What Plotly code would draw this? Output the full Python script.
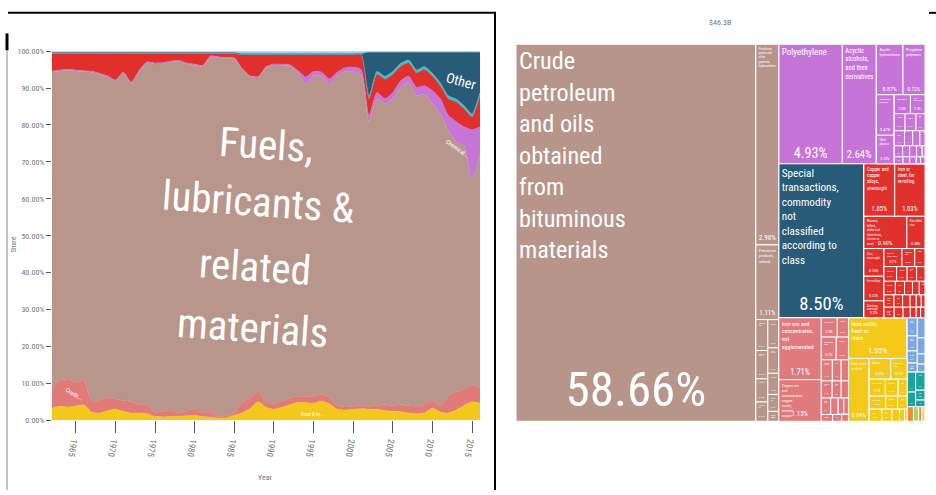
import math
import textwrap
import plotly.graph_objects as go

FONT = "Roboto Condensed, Liberation Sans Narrow, Roboto, sans-serif"

# ---------------- Left chart: export share by SITC section (%) ----------------
years = list(range(1962, 2017))
food = [3.3, 3.8, 3.6, 3.9, 4.2, 2.2, 2.0, 2.6, 3.0, 2.4,
        2.0, 2.0, 1.8, 1.0, 0.9, 1.0, 1.1, 1.2, 1.4, 1.0,
        0.8, 0.6, 0.7, 1.4, 2.0, 3.2, 5.0, 3.5, 3.0, 3.5,
        4.2, 4.8, 4.8, 4.6, 5.2, 4.4, 3.0, 2.8, 3.0, 3.1,
        3.0, 3.0, 2.6, 2.5, 2.3, 2.0, 1.8, 2.0, 3.3, 2.2,
        2.0, 2.8, 4.0, 5.0, 4.6]
crude_materials = [5.3, 7.0, 7.6, 6.3, 6.8, 2.8, 3.5, 3.6, 2.8, 3.0,
                   3.0, 2.3, 2.4, 1.2, 1.5, 1.8, 0.9, 1.3, 1.8, 1.0,
                   1.4, 0.4, 0.5, 0.6, 2.8, 2.8, 2.7, 1.5, 1.5, 1.7,
                   1.8, 1.7, 1.7, 1.9, 1.8, 1.8, 1.0, 0.8, 0.8, 0.9,
                   0.8, 1.0, 1.6, 1.5, 2.0, 2.0, 2.0, 2.2, 2.2, 1.6,
                   4.5, 4.9, 4.5, 4.6, 4.2]
fuels = [85.7, 83.8, 83.6, 84.4, 83.4, 89.3, 88.2, 86.8, 86.1, 88.6,
         86.3, 90.2, 92.6, 94.3, 94.2, 94.2, 95.2, 94.0, 93.0, 93.8,
         96.2, 97.2, 96.8, 95.9, 90.2, 87.0, 85.1, 90.5, 91.7, 91.0,
         90.0, 87.6, 84.5, 86.8, 86.3, 84.8, 89.3, 90.9, 90.7, 89.6,
         77.1, 83.1, 81.6, 83.1, 85.9, 87.5, 84.2, 84.2, 80.3, 79.3,
         72.0, 67.8, 65.7, 55.4, 63.2]
chemicals = [0.3, 0.3, 0.3, 0.3, 0.3, 0.3, 0.3, 0.3, 0.3, 0.3,
             0.3, 0.3, 0.3, 0.3, 0.3, 0.3, 0.3, 0.3, 0.3, 0.3,
             0.3, 0.3, 0.3, 0.3, 0.3, 0.3, 0.3, 0.3, 0.3, 0.3,
             0.3, 0.7, 2.0, 1.2, 1.0, 1.5, 1.0, 1.0, 1.2, 1.4,
             1.7, 1.7, 1.3, 1.7, 1.8, 1.7, 2.2, 2.2, 3.5, 4.0,
             4.1, 5.4, 5.3, 13.7, 7.5]
manufactured = [4.7, 4.4, 4.2, 4.4, 4.6, 4.7, 5.3, 6.0, 7.1, 5.0,
                7.7, 4.5, 2.2, 2.5, 2.4, 2.0, 1.8, 2.5, 2.8, 3.2,
                0.6, 0.8, 1.0, 1.1, 3.7, 5.7, 5.9, 3.2, 2.5, 2.5,
                2.7, 4.2, 6.0, 4.5, 4.7, 6.5, 4.7, 3.5, 3.3, 4.0,
                4.5, 4.9, 5.3, 4.9, 3.9, 3.6, 3.9, 4.4, 3.9, 3.5,
                4.5, 5.3, 4.9, 3.5, 8.5]
machinery = [0.2, 0.2, 0.2, 0.2, 0.2, 0.2, 0.2, 0.2, 0.2, 0.2,
             0.2, 0.2, 0.2, 0.2, 0.2, 0.2, 0.2, 0.2, 0.2, 0.2,
             0.2, 0.2, 0.2, 0.2, 0.2, 0.2, 0.2, 0.2, 0.2, 0.2,
             0.2, 0.2, 0.2, 0.2, 0.2, 0.2, 0.2, 0.2, 0.2, 0.2,
             0.8, 0.8, 0.8, 0.8, 0.8, 0.8, 0.8, 0.8, 0.8, 0.8,
             0.8, 0.8, 0.8, 0.8, 0.8]
other = [0.1, 0.1, 0.1, 0.1, 0.1, 0.1, 0.1, 0.1, 0.1, 0.1,
         0.1, 0.1, 0.1, 0.1, 0.1, 0.1, 0.1, 0.1, 0.1, 0.1,
         0.1, 0.1, 0.1, 0.1, 0.1, 0.1, 0.1, 0.1, 0.1, 0.1,
         0.1, 0.1, 0.1, 0.1, 0.1, 0.1, 0.1, 0.1, 0.1, 0.1,
         11.8, 5.2, 6.5, 5.2, 3.0, 2.1, 4.8, 3.9, 5.7, 8.3,
         11.8, 12.7, 14.5, 16.7, 10.9]
misc = [0.4, 0.4, 0.4, 0.4, 0.4, 0.4, 0.4, 0.4, 0.4, 0.4,
        0.4, 0.4, 0.4, 0.4, 0.4, 0.4, 0.4, 0.4, 0.4, 0.4,
        0.4, 0.4, 0.4, 0.4, 0.7, 0.7, 0.7, 0.7, 0.7, 0.7,
        0.7, 0.7, 0.7, 0.7, 0.7, 0.7, 0.7, 0.7, 0.7, 0.7,
        0.3, 0.3, 0.3, 0.3, 0.3, 0.3, 0.3, 0.3, 0.3, 0.3,
        0.3, 0.3, 0.3, 0.3, 0.3]

area_series = [
    ("Food & live animals", food),
    ("Crude materials, inedible", crude_materials),
    ("Fuels, lubricants & related materials", fuels),
    ("Chemicals", chemicals),
    ("Manufactured goods", manufactured),
    ("Machinery & transport equipment", machinery),
    ("Other", other),
    ("Miscellaneous manufactured articles", misc),
]
area_colors = ["#f2c81d", "#e07b79", "#b9968c", "#c775d9", "#e1302c",
               "#3cbfcf", "#285b77", "#8fd3ee"]

x_ticks = [1965, 1970, 1975, 1980, 1985, 1990, 1995, 2000, 2005, 2010, 2015]
y_ticks = [0, 10, 20, 30, 40, 50, 60, 70, 80, 90, 100]
y_tick_labels = ["0.00%", "10.00%", "20.00%", "30.00%", "40.00%", "50.00%",
                 "60.00%", "70.00%", "80.00%", "90.00%", "100.00%"]
big_label_lines = ["Fuels,", "lubricants &", "related", "materials"]

# ---------------- Right chart: treemap, share of $46.3B (%) ----------------
total_label = "$46.3B"
fuels_main = [("Crude petroleum and oils obtained from bituminous materials", 58.66)]
fuels_col = [("Petroleum gases and other gaseous hydrocarbons", 2.98),
             ("Petroleum products, refined", 1.11)]
fuels_small_a = [("Petroleum coke", 0.24), ("Bitumen and asphalt", 0.22),
                 ("Paraffin wax", 0.18), ("Lubricating oils", 0.15)]
fuels_small_b = [("Coal", 0.20), ("Coke and semi-coke", 0.18), ("Lignite", 0.15),
                 ("Coal tar oils", 0.12), ("Electric current", 0.07)]

chem_main = [("Polyethylene", 4.93), ("Acyclic alcohols, and their derivatives", 2.64)]
chem_top = [("Acyclic hydrocarbons", 0.87), ("Propylene polymers", 0.72)]
chem_col = [("Nitrogenous fertilizers", 0.47), ("Other plastics", 0.33)]
chem_rows = [
    [("Ammonia", 0.20), ("Cyclic hydrocarbons", 0.18)],
    [("Polyacetals", 0.12), ("Ethers", 0.12), ("Carboxylic acids", 0.10)],
    [("Urea", 0.10), ("Ketones", 0.08), ("Styrene polymers", 0.07), ("Sulphonated compounds", 0.05)],
    [("Paints and varnishes", 0.06), ("Soap", 0.05), ("Medicaments", 0.05), ("Cosmetics", 0.04), ("Pesticides", 0.02)],
    [("Plastic tubes", 0.04), ("Plastic packing", 0.03), ("Rubber tyres", 0.03), ("Glues", 0.02), ("Dyes", 0.02)],
]

special = [("Special transactions, commodity not classified according to class", 8.50)]

metal_r1 = [("Copper and copper alloys, unwrought", 1.05), ("Iron or steel, for re-rolling", 1.03)]
metal_r2 = [("Blooms, billets, slabs and sheet bars, of iron or steel", 0.90), ("Flat-rolled iron", 0.38)]
metal_col = [("Zinc, unwrought", 0.36), ("Ferro-alloys", 0.32), ("Aluminium, unwrought", 0.22)]
metal_rows = [
    [("Iron or steel bars", 0.21), ("Tubes and pipes", 0.15), ("Copper bars", 0.12)],
    [("Iron wire", 0.12), ("Copper wire", 0.10), ("Aluminium bars", 0.09), ("Lead, unwrought", 0.08)],
    [("Cement", 0.10), ("Glass", 0.08), ("Ceramic tiles", 0.07), ("Carpets", 0.06), ("Cotton fabrics", 0.05)],
    [("Woven fabrics", 0.08), ("Paper", 0.07), ("Leather", 0.06), ("Building stone", 0.05), ("Iron structures", 0.04), ("Hand tools", 0.03)],
    [("Nails and screws", 0.07), ("Containers of iron", 0.06), ("Wire products", 0.05), ("Yarn", 0.04), ("Glassware", 0.03), ("Veneer", 0.03)],
]

min_ores = [("Iron ore and concentrates, not agglomerated", 1.71),
            ("Copper ore and concentrates; copper matte, cement copper", 1.15)]
min_rows = [
    [("Zinc ores", 0.20), ("Lead ores", 0.14)],
    [("Chromium ores", 0.22), ("Sulphur", 0.18)],
    [("Stone, sand and gravel", 0.15), ("Gypsum", 0.12), ("Salt", 0.10)],
    [("Molybdenum ores", 0.12), ("Hides and skins", 0.10), ("Wool", 0.08)],
    [("Natural rubber", 0.10), ("Iron ore, agglomerated", 0.08), ("Clays", 0.06), ("Feldspar", 0.05)],
    [("Oil seeds", 0.05), ("Crude animal materials", 0.04), ("Aluminium ores", 0.03)],
]

food_main = [("Nuts edible, fresh or dried", 1.55)]
food_col = [("Fruit, fresh or dried", 0.84)]
food_rows = [
    [("Spices", 0.29), ("Vegetables, fresh", 0.22)],
    [("Fruit, dried", 0.18), ("Melons", 0.14), ("Dates", 0.10)],
    [("Fish, fresh", 0.14), ("Crustaceans", 0.10), ("Vegetables, frozen", 0.08)],
    [("Tea", 0.10), ("Sugar confectionery", 0.08), ("Dairy products", 0.06), ("Cereals", 0.04), ("Animal feed", 0.02)],
]

mach_a = [("Parts of machinery", 0.12), ("Electric machinery", 0.10), ("Pumps", 0.08), ("Vehicle parts", 0.06)]
mach_b = [("Motor vehicles", 0.10), ("Heating equipment", 0.08), ("Switchgear", 0.05), ("Electric cables", 0.04)]
misc_a = [("Articles of plastics", 0.11), ("Furniture", 0.08)]
misc_b = [("Clothing", 0.11), ("Footwear", 0.06), ("Measuring instruments", 0.04)]
tiny = [("Beverages", 0.06), ("Animal and vegetable oils", 0.05), ("Tobacco", 0.03), ("Live animals", 0.03)]

FUEL, CHEM, SPEC, METAL = "#b8958b", "#c774d9", "#285b77", "#e1312c"
MIN, FOODC, MACH, MISC = "#e07a7c", "#f4c919", "#7ea6e0", "#1ea39c"
tiny_colors = {"Beverages": "#f08a3c", "Animal and vegetable oils": "#a8d46f",
               "Tobacco": "#f08a3c", "Live animals": "#f5d36b"}

# ---------------- build treemap hierarchy ----------------
ids, labels, parents, values, colors, leaf = [], [], [], [], [], []


def node(i, parent, color, label=None):
    ids.append(i); parents.append(parent); labels.append(label or i)
    values.append(0); colors.append(color); leaf.append(False)


def leaves(items, parent, color):
    for name, v in items:
        ids.append(parent + "/" + name); parents.append(parent); labels.append(name)
        values.append(v); leaf.append(True)
        colors.append(tiny_colors.get(name, "#f08a3c") if color is None else color)


def rows(rowlist, parent, color):
    for k, r in enumerate(rowlist):
        node(f"{parent}_r{k}", parent, color)
        leaves(r, f"{parent}_r{k}", color)


node("root", "", "#ffffff", total_label)
node("wf", "root", FUEL)
node("fuels", "wf", FUEL, "Fuels")
leaves(fuels_main, "fuels", FUEL)
node("fcol", "fuels", FUEL)
leaves(fuels_col, "fcol", FUEL)
node("fsmall", "fcol", FUEL)
node("fsa", "fsmall", FUEL); leaves(fuels_small_a, "fsa", FUEL)
node("fsb", "fsmall", FUEL); leaves(fuels_small_b, "fsb", FUEL)

node("wr", "root", "#ffffff")
node("chem", "wr", CHEM, "Chemicals")
leaves(chem_main, "chem", CHEM)
node("crest", "chem", CHEM)
node("ctop", "crest", CHEM); leaves(chem_top, "ctop", CHEM)
node("cbot", "crest", CHEM)
node("ccol", "cbot", CHEM); leaves(chem_col, "ccol", CHEM)
node("cmos", "cbot", CHEM); rows(chem_rows, "cmos", CHEM)

node("mid", "wr", SPEC)
leaves(special, "mid", SPEC)
node("metals", "mid", METAL, "Manufactured goods")
node("mr1", "metals", METAL); leaves(metal_r1, "mr1", METAL)
node("mr2", "metals", METAL); leaves(metal_r2, "mr2", METAL)
node("mr3", "metals", METAL)
node("mcola", "mr3", METAL); leaves(metal_col, "mcola", METAL)
node("mmos", "mr3", METAL); rows(metal_rows, "mmos", METAL)

node("bot", "wr", MIN)
node("minerals", "bot", MIN, "Crude materials")
node("minw", "minerals", MIN)
node("minores", "minw", MIN); leaves(min_ores, "minores", MIN)
node("minmos", "minw", MIN); rows(min_rows, "minmos", MIN)
node("food", "bot", FOODC, "Food")
leaves(food_main, "food", FOODC)
node("fr2", "food", FOODC)
leaves(food_col, "fr2", FOODC)
node("fmos", "fr2", FOODC); rows(food_rows, "fmos", FOODC)
node("others", "bot", MACH)
node("mach", "others", MACH)
node("macha", "mach", MACH); leaves(mach_a, "macha", MACH)
node("machb", "mach", MACH); leaves(mach_b, "machb", MACH)
node("misc", "others", MISC)
node("misca", "misc", MISC); leaves(misc_a, "misca", MISC)
node("miscb", "misc", MISC); leaves(misc_b, "miscb", MISC)
node("tiny", "others", "#f08a3c"); leaves(tiny, "tiny", None)


def wrap(s):
    return "<br>".join(textwrap.wrap(s, 12, break_long_words=False))


name_text = [wrap(l) if lf else "" for l, lf in zip(labels, leaf)]
pct_text = [f"{v:.2f}%" if lf else "" for v, lf in zip(values, leaf)]
name_size = [max(1.0, 4.75 * v ** 0.4) if lf else 10 for v, lf in zip(values, leaf)]
pct_size = [max(1.0, 6.4 * math.sqrt(v)) if lf else 10 for v, lf in zip(values, leaf)]

W, H = 936, 495
def px(x): return x / W
def py(y): return 1 - y / H

fig = go.Figure()

for (name, vals), col in zip(area_series, area_colors):
    fig.add_trace(go.Scatter(
        x=years, y=vals, name=name, stackgroup="one", groupnorm="percent",
        mode="lines", line=dict(width=0.5, color=col, shape="spline", smoothing=0.6),
        fillcolor=col, hoverinfo="x+y+name"))

tm_domain = dict(x=[px(516), px(925)], y=[py(425), py(41)])
common = dict(ids=ids, labels=labels, parents=parents, values=values,
              branchvalues="remainder", sort=False, domain=tm_domain,
              tiling=dict(packing="slice-dice", pad=0),
              pathbar=dict(visible=False), root=dict(color="#ffffff"))
fig.add_trace(go.Treemap(
    **common, text=name_text, textinfo="text", textposition="top left",
    textfont=dict(family=FONT, color="white", size=name_size),
    marker=dict(colors=colors, line=dict(color="white", width=1),
                pad=dict(t=0, l=0, r=0, b=0))))
fig.add_trace(go.Treemap(
    **common, text=pct_text, textinfo="text", textposition="bottom center",
    textfont=dict(family=FONT, color="white", size=pct_size),
    hoverinfo="skip",
    marker=dict(colors=["rgba(0,0,0,0)"] * len(ids), line=dict(width=0),
                pad=dict(t=0, l=0, r=0, b=0))))

fig.update_layout(
    width=W, height=H, autosize=False, showlegend=False,
    margin=dict(l=0, r=0, t=0, b=0),
    paper_bgcolor="white", plot_bgcolor="white",
    font=dict(family=FONT),
    xaxis=dict(domain=[px(52), px(480)], range=[1962, 2016], tickvals=x_ticks,
               ticks="outside", ticklen=12, tickcolor="#555555", tickwidth=1,
               tickangle=100, tickfont=dict(family=FONT, size=9, color="#777777"),
               showgrid=False, zeroline=False, showline=False),
    yaxis=dict(domain=[py(424), py(48)], range=[0, 100], tickvals=y_ticks,
               ticktext=y_tick_labels, ticks="outside", ticklen=5,
               tickcolor="#555555", tickfont=dict(family=FONT, size=8, color="#777777"),
               showgrid=False, zeroline=False, showline=False),
)

C = dict(showarrow=False, xanchor="center", yanchor="middle")
ann = []
for line, (xc, yc) in zip(big_label_lines, [(1989.0, 74.5), (1988.0, 59.0), (1987.6, 41.5), (1987.3, 25.0)]):
    ann.append(dict(x=xc, y=yc, xref="x", yref="y", text=line, textangle=4,
                    font=dict(family=FONT, size=41, color="white"), **C))
ann += [
    dict(x=2013.6, y=92, xref="x", yref="y", text="Other", textangle=15,
         font=dict(family=FONT, size=14, color="white"), **C),
    dict(x=2013.2, y=73.5, xref="x", yref="y", text="Chemical...", textangle=35,
         font=dict(family=FONT, size=6, color="white"), **C),
    dict(x=1964.8, y=7.2, xref="x", yref="y", text="Crude...", textangle=30,
         font=dict(family=FONT, size=6, color="white"), **C),
    dict(x=1994.9, y=1.6, xref="x", yref="y", text="Food & liv...",
         font=dict(family=FONT, size=5, color="white"), **C),
    dict(x=px(265), y=py(482), xref="paper", yref="paper", text="Year",
         font=dict(family=FONT, size=8, color="#777777"), **C),
    dict(x=px(14), y=py(245), xref="paper", yref="paper", text="Share",
         textangle=-90, font=dict(family=FONT, size=7, color="#777777"), **C),
    dict(x=px(720), y=py(19), xref="paper", yref="paper", text=total_label,
         font=dict(family=FONT, size=8, color="#777777"), **C),
]
fig.update_layout(annotations=ann)

shapes = [
    dict(type="line", xref="paper", yref="paper", x0=px(8), x1=px(496), y0=py(9), y1=py(9),
         line=dict(color="black", width=2)),
    dict(type="line", xref="paper", yref="paper", x0=px(495), x1=px(495), y0=py(9), y1=0,
         line=dict(color="black", width=2)),
    dict(type="line", xref="paper", yref="paper", x0=px(7), x1=px(7), y0=py(30), y1=0,
         line=dict(color="#888888", width=1)),
    dict(type="line", xref="paper", yref="paper", x0=px(7), x1=px(7), y0=py(30), y1=py(47),
         line=dict(color="black", width=3)),
    dict(type="line", xref="paper", yref="paper", x0=px(929), x1=px(936), y0=py(9), y1=py(9),
         line=dict(color="black", width=2)),
]
fig.update_layout(shapes=shapes)

fig.write_html("out.html", config={"displayModeBar": False},
               post_script="document.body.style.margin='0';document.body.style.overflow='hidden';")
